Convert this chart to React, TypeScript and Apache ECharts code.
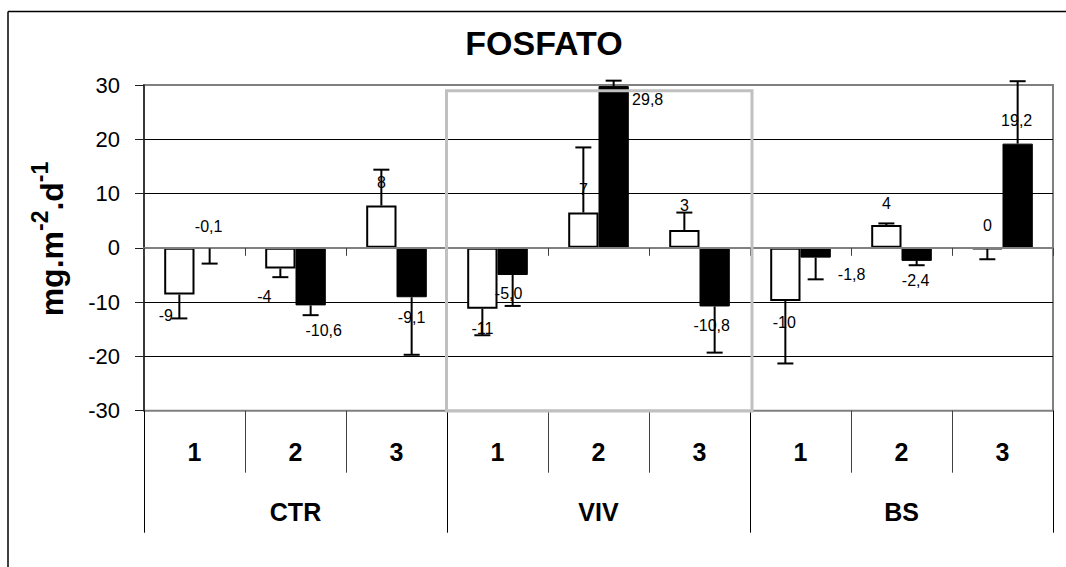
import React, { useEffect, useRef } from 'react';
import * as echarts from 'echarts';

// ---- data ----
const categories = ['CTR-1', 'CTR-2', 'CTR-3', 'VIV-1', 'VIV-2', 'VIV-3', 'BS-1', 'BS-2', 'BS-3'];
const subLabels = ['1', '2', '3', '1', '2', '3', '1', '2', '3'];
const groupLabels = ['CTR', 'VIV', 'BS'];
const whiteValues = [-8.6, -3.8, 7.8, -11.2, 6.5, 3.3, -9.8, 4.2, -0.2];
const whiteErrors = [4.4, 1.6, 6.6, 4.9, 12.0, 3.2, 11.5, 0.3, 1.9];
const blackValues = [-0.1, -10.6, -9.1, -5.0, 29.8, -10.8, -1.8, -2.4, 19.2];
const blackErrors = [2.8, 1.8, 10.6, 5.7, 1.0, 8.5, 4.0, 0.8, 11.5];
const yMin = -30;
const yMax = 30;
const yStep = 10;
const titleText = 'FOSFATO';

// ---- label placement (style: centre shift from bar end, px) ----
const whiteLabelShift = [[-13.5, 21], [-16, 28], [0, -23], [0, 20], [0, -23], [0, -24], [-1, 21], [0, -22], [0, -24]];
const blackLabelShift = [[-1, -22.6], [13, 25], [0, 20], [-4, 19], [34, 13], [-3, 19], [36, 17], [-1, 20], [-1, -23.5]];

const FONT = '"Liberation Sans", Arial, Helvetica, sans-serif';

export default function App() {
  const ref = useRef<HTMLDivElement>(null);

  useEffect(() => {
    const chart = echarts.init(ref.current as HTMLDivElement, null, { renderer: 'svg' });

    const errRender = (side: number) => (params: any, api: any) => {
      const i = api.value(0);
      const v = api.value(1);
      const e = api.value(2);
      const band = api.size([1, 0])[0];
      const dx = side * band * 0.15;
      const end = v >= 0 ? v + e : v - e;
      const p0 = api.coord([i, v]);
      const p1 = api.coord([i, end]);
      const x = p0[0] + dx;
      const cap = 8;
      return {
        type: 'group',
        children: [
          { type: 'line', shape: { x1: x, y1: p0[1], x2: x, y2: p1[1] }, style: { stroke: '#000', lineWidth: 2 } },
          { type: 'line', shape: { x1: x - cap, y1: p1[1], x2: x + cap, y2: p1[1] }, style: { stroke: '#000', lineWidth: 2 } },
        ],
      };
    };

    const mkData = (vals: number[], shifts: number[][]) =>
      vals.map((v, i) => ({
        value: v,
        label: {
          position: v >= 0 ? 'top' : 'bottom',
          offset: shifts[i],
        },
      }));

    const labelBase = {
      show: true,
      distance: 0,
      fontSize: 16,
      fontFamily: FONT,
      color: '#000',
      verticalAlign: 'middle',
      align: 'center',
    };

    const option: any = {
      animation: false,
      backgroundColor: '#fff',
      grid: {
        left: 144,
        top: 85,
        right: 13,
        bottom: 156.3,
        show: true,
        borderColor: '#808080',
        borderWidth: 2,
        backgroundColor: 'transparent',
      },
      xAxis: [
        {
          type: 'category',
          data: categories,
          axisLine: { show: true, onZero: true, lineStyle: { color: '#808080', width: 2 } },
          axisTick: { show: true, length: 8, lineStyle: { color: '#404040', width: 1 } },
          axisLabel: { show: false },
          splitLine: { show: false },
          z: 3,
        },
        {
          type: 'category',
          data: subLabels,
          position: 'bottom',
          axisLine: { show: false, onZero: false },
          axisTick: { show: true, length: 62, interval: 0, lineStyle: { color: '#404040', width: 1 } },
          axisLabel: {
            show: true,
            interval: 0,
            margin: 41,
            fontSize: 25,
            fontWeight: 'bold',
            fontFamily: FONT,
            color: '#000',
            verticalAlign: 'middle',
          },
          splitLine: { show: false },
        },
        {
          type: 'category',
          data: groupLabels,
          position: 'bottom',
          axisLine: { show: false, onZero: false },
          axisTick: { show: true, length: 122, interval: 0, lineStyle: { color: '#000', width: 1 } },
          axisLabel: {
            show: true,
            interval: 0,
            margin: 101,
            fontSize: 25,
            fontWeight: 'bold',
            fontFamily: FONT,
            color: '#000',
            verticalAlign: 'middle',
          },
          splitLine: { show: false },
        },
      ],
      yAxis: {
        type: 'value',
        min: yMin,
        max: yMax,
        interval: yStep,
        axisLine: { show: true, lineStyle: { color: '#202020', width: 1.5 } },
        axisTick: { show: true, length: 9, lineStyle: { color: '#202020', width: 1 } },
        axisLabel: { fontSize: 22, fontFamily: FONT, color: '#000', margin: 24 },
        splitLine: {
          show: true,
          lineStyle: { color: ['#808080', '#000', '#000', '#808080', '#000', '#000', '#808080'], width: 1 },
        },
      },
      series: [
        {
          type: 'bar',
          name: 'white',
          xAxisIndex: 0,
          data: mkData(whiteValues, whiteLabelShift),
          barGap: '0%',
          barCategoryGap: '40%',
          itemStyle: { color: '#fff', borderColor: '#000', borderWidth: 2 },
          label: { ...labelBase, formatter: (p: any) => String(Math.round(p.value)) },
          z: 2,
        },
        {
          type: 'bar',
          name: 'black',
          xAxisIndex: 0,
          data: mkData(blackValues, blackLabelShift),
          barGap: '0%',
          barCategoryGap: '40%',
          itemStyle: { color: '#000', borderColor: '#000', borderWidth: 1 },
          label: { ...labelBase, formatter: (p: any) => Number(p.value).toFixed(1).replace('.', ',') },
          z: 2,
        },
        {
          type: 'custom',
          xAxisIndex: 0,
          renderItem: errRender(-1),
          data: whiteValues.map((v, i) => [i, v, whiteErrors[i]]),
          encode: { x: 0, y: 1 },
          clip: false,
          z: 4,
        },
        {
          type: 'custom',
          xAxisIndex: 0,
          renderItem: errRender(1),
          data: blackValues.map((v, i) => [i, v, blackErrors[i]]),
          encode: { x: 0, y: 1 },
          clip: false,
          z: 4,
        },
      ],
      graphic: [
        {
          type: 'line',
          shape: { x1: 8, y1: 11.5, x2: 8, y2: 567 },
          style: { stroke: '#000', lineWidth: 1.5 },
          silent: true,
          z: 100,
        },
        {
          type: 'line',
          shape: { x1: 8, y1: 11.5, x2: 1066, y2: 11.5 },
          style: { stroke: '#000', lineWidth: 1.5 },
          silent: true,
          z: 100,
        },
        {
          type: 'text',
          x: 544,
          y: 42.5,
          style: {
            text: titleText,
            fontSize: 34,
            fontWeight: 'bold',
            fontFamily: FONT,
            fill: '#000',
            align: 'center',
            verticalAlign: 'middle',
          },
          z: 100,
        },
        {
          type: 'text',
          x: 48,
          y: 239,
          rotation: Math.PI / 2,
          style: {
            text: '{a|mg.m}{b|-2}{a|.d}{b|-1}',
            fill: '#000',
            align: 'center',
            verticalAlign: 'middle',
            rich: {
              a: { fontSize: 32, fontWeight: 'bold', fontFamily: FONT, fill: '#000', verticalAlign: 'bottom' },
              b: { fontSize: 23, fontWeight: 'bold', fontFamily: FONT, fill: '#000', verticalAlign: 'bottom', padding: [0, 0, 16, 0] },
            },
          },
          z: 100,
        },
        {
          type: 'rect',
          shape: { x: 446.5, y: 90.8, width: 305.5, height: 320.3 },
          style: { fill: 'none', stroke: '#c0c0c0', lineWidth: 3 },
          silent: true,
          z: 100,
        },
      ],
    };

    chart.setOption(option);
    return () => chart.dispose();
  }, []);

  return (
    <div style={{ position: 'absolute', left: 0, top: 0, width: 1066, height: 567, overflow: 'hidden', background: '#fff' }}>
      <div ref={ref} style={{ width: 1066, height: 567 }} />
    </div>
  );
}
